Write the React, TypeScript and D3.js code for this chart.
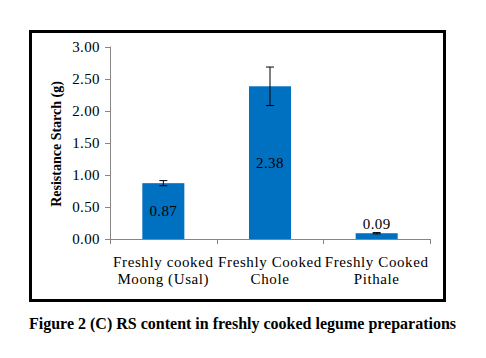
import React from "react";
import * as d3 from "d3";

const categories = ["Freshly cooked\nMoong (Usal)", "Freshly Cooked\nChole", "Freshly Cooked\nPithale"];
const values = [0.87, 2.38, 0.09];
const errors = [0.04, 0.3, 0.01];
const yTicks = [0, 0.5, 1, 1.5, 2, 2.5, 3];
const yTitle = "Resistance Starch (g)";
const caption = "Figure 2 (C) RS content in freshly cooked legume preparations";

const W = 486;
const H = 358;
const FONT = "'Liberation Serif', 'Times New Roman', serif";

export default function App() {
  const y = d3.scaleLinear().domain([0, 3]).range([239, 46.5]);
  const x = d3
    .scaleBand<string>()
    .domain(categories)
    .range([110, 430])
    .paddingInner(0.606)
    .paddingOuter(0.303);
  const step = x.step();
  const axisColor = "#868686";
  const bw = x.bandwidth();

  return (
    <svg
      width={W}
      height={H}
      style={{ position: "absolute", left: 0, top: 0, background: "#fff" }}
      fontFamily={FONT}
    >
      <rect x={0} y={0} width={W} height={H} fill="#fff" />
      <rect x={30.5} y={31.5} width={414} height={269} fill="none" stroke="#000" strokeWidth={3} />

      {/* y axis */}
      <line x1={110.5} x2={110.5} y1={y(3)} y2={y(0)} stroke={axisColor} strokeWidth={1} />
      {yTicks.map((t) => (
        <g key={t}>
          <line x1={105} x2={110.5} y1={Math.round(y(t)) + 0.5} y2={Math.round(y(t)) + 0.5} stroke={axisColor} />
          <text
            x={100}
            y={y(t)}
            dy="0.35em"
            textAnchor="end"
            fontSize={15}
            letterSpacing={0.4}
            fill="#000"
          >
            {t.toFixed(2)}
          </text>
        </g>
      ))}

      {/* x axis */}
      <line x1={110} x2={430.5} y1={Math.round(y(0)) + 0.5} y2={Math.round(y(0)) + 0.5} stroke={axisColor} />
      {[0, 1, 2, 3].map((i) => {
        const xx = Math.round(110 + i * step) + 0.5;
        return <line key={i} x1={xx} x2={xx} y1={y(0)} y2={y(0) + 5} stroke={axisColor} />;
      })}

      {/* bars */}
      {categories.map((c, i) => {
        const bx = x(c) as number;
        const cx = bx + bw / 2;
        const top = y(values[i]);
        const h = y(0) - top;
        const inside = h > 20;
        const eTop = y(values[i] + errors[i]);
        const eBot = y(values[i] - errors[i]);
        return (
          <g key={c}>
            <rect x={bx} y={top} width={bw} height={h} fill="#0070C0" />
            <line x1={cx} x2={cx} y1={eTop} y2={eBot} stroke="#000" strokeWidth={1} />
            <line x1={cx - 4} x2={cx + 4} y1={eTop} y2={eTop} stroke="#000" strokeWidth={1} />
            <line x1={cx - 4} x2={cx + 4} y1={eBot} y2={eBot} stroke="#000" strokeWidth={1} />
            <text
              x={cx}
              y={inside ? (top + y(0)) / 2 : top - 9}
              dy="0.35em"
              textAnchor="middle"
              fontSize={15}
              letterSpacing={0.4}
              fill="#000"
            >
              {values[i].toFixed(2)}
            </text>
            {c.split("\n").map((line, j) => (
              <text
                key={j}
                x={cx}
                y={267 + j * 16.5}
                textAnchor="middle"
                fontSize={15}
                letterSpacing={0.6}
                fill="#000"
              >
                {line}
              </text>
            ))}
          </g>
        );
      })}

      {/* y title */}
      <text
        transform={`translate(61,144) rotate(-90)`}
        textAnchor="middle"
        fontSize={14}
        fontWeight="bold"
        fill="#000"
      >
        {yTitle}
      </text>

      {/* caption */}
      <text x={29} y={329} fontSize={16} fontWeight="bold" fill="#000">
        {caption}
      </text>
    </svg>
  );
}
